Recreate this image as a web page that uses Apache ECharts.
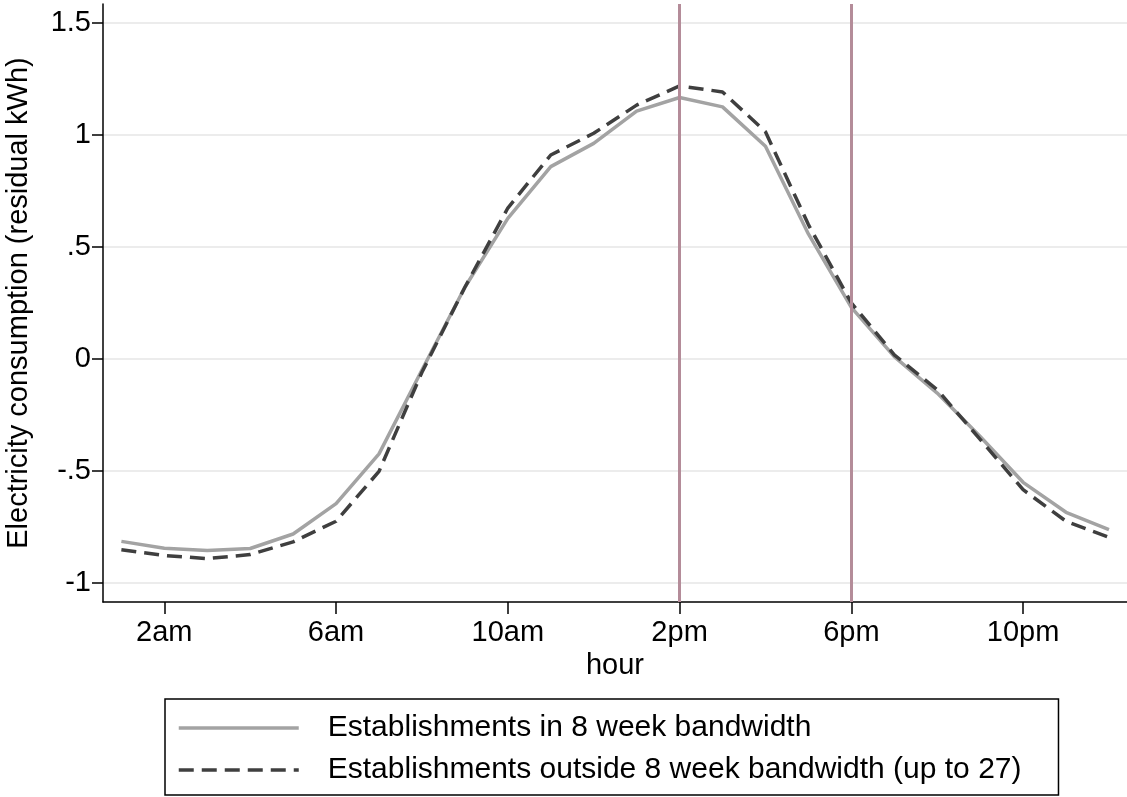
<!DOCTYPE html>
<html>
<head>
<meta charset="utf-8">
<script src="https://cdn.jsdelivr.net/npm/echarts@6/dist/echarts.min.js"></script>
<style>
  html, body { margin: 0; padding: 0; background: #fff; }
  #chart { width: 1127px; height: 797px; }
</style>
</head>
<body>
<div id="chart"></div>
<script>
// hour of day (1..24)
const hours = [1, 2, 3, 4, 5, 6, 7, 8, 9, 10, 11, 12, 13, 14, 15, 16, 17, 18, 19, 20, 21, 22, 23, 24];

// residual kWh, establishments in 8 week bandwidth
const inBandwidth = [-0.816, -0.847, -0.857, -0.848, -0.783, -0.647, -0.425, -0.05, 0.32, 0.628, 0.859, 0.963,
  1.107, 1.168, 1.126, 0.95, 0.558, 0.23, 0.01, -0.153, -0.347, -0.552, -0.686, -0.763];

// residual kWh, establishments outside 8 week bandwidth
const outsideBandwidth = [-0.853, -0.879, -0.893, -0.875, -0.818, -0.726, -0.503, -0.06, 0.32, 0.674, 0.911, 1.008,
  1.134, 1.22, 1.193, 1.015, 0.6, 0.25, 0.018, -0.138, -0.36, -0.585, -0.726, -0.798];

const xTickValues = [2, 6, 10, 14, 18, 22];
const xTickLabels = ["2am", "6am", "10am", "2pm", "6pm", "10pm"];
const yTickValues = [-1, -0.5, 0, 0.5, 1, 1.5];
const yTickLabels = ["-1", "-.5", "0", ".5", "1", "1.5"];
const ruleHours = [14, 18];

const seriesNames = [
  "Establishments in 8 week bandwidth",
  "Establishments outside 8 week bandwidth (up to 27)",
];

const font = "'Liberation Sans', Arial, Helvetica, sans-serif";
const grayColor = "#a3a3a3";
const darkColor = "#3f3f3f";
const dash = [15, 8];

function pairs(ys) {
  return hours.map((h, i) => [h, ys[i]]);
}

const chart = echarts.init(document.getElementById("chart"));

const option = {
  animation: false,
  backgroundColor: "#fff",
  grid: { left: 103, right: 0, top: 4, bottom: 195, containLabel: false, outerBoundsMode: "none" },
  xAxis: {
    type: "value",
    min: 0.572,
    max: 24.42,
    name: "hour",
    nameLocation: "middle",
    nameGap: 46,
    nameTextStyle: { fontSize: 29, color: "#000", fontFamily: font, verticalAlign: "top" },
    axisLine: { onZero: false, lineStyle: { color: "#000", width: 1.5 } },
    axisTick: { show: true, length: 12, lineStyle: { color: "#000", width: 1.5 }, customValues: xTickValues },
    axisLabel: {
      fontSize: 29, color: "#000", fontFamily: font, margin: 16,
      customValues: xTickValues,
      formatter: (v) => xTickLabels[xTickValues.indexOf(v)],
    },
    splitLine: { show: false },
  },
  yAxis: {
    type: "value",
    min: -1.087,
    max: 1.586,
    name: "Electricity consumption (residual kWh)",
    nameLocation: "middle",
    nameGap: 70,
    nameTextStyle: { fontSize: 29, color: "#000", fontFamily: font },
    axisLine: { show: true, onZero: false, lineStyle: { color: "#000", width: 1.5 } },
    axisTick: { show: true, length: 11, lineStyle: { color: "#000", width: 1.5 }, customValues: yTickValues },
    axisLabel: {
      fontSize: 29, color: "#000", fontFamily: font, margin: 12,
      customValues: yTickValues,
      formatter: (v) => yTickLabels[yTickValues.indexOf(v)],
    },
    splitLine: { show: true, lineStyle: { color: "#ececec", width: 2 } },
  },
  legend: {
    orient: "vertical",
    left: 165,
    top: 699,
    data: [
      { name: seriesNames[0], lineStyle: { color: grayColor, width: 3.5, type: "solid" } },
      { name: seriesNames[1], lineStyle: { color: darkColor, width: 3.5, type: dash } },
    ],
    borderColor: "#000",
    borderWidth: 1.5,
    padding: [14, 37, 10, 12],
    itemWidth: 120,
    itemHeight: 14,
    itemGap: 12,
    selectedMode: false,
    itemStyle: { opacity: 0, borderWidth: 0 },
    textStyle: { fontSize: 30, color: "#000", fontFamily: font, lineHeight: 30, padding: [0, 0, 0, 24] },
  },
  series: [
    {
      name: seriesNames[0],
      type: "line",
      data: pairs(inBandwidth),
      symbol: "none",
      lineStyle: { color: grayColor, width: 3.5 },
      itemStyle: { color: grayColor },
      z: 2,
    },
    {
      name: seriesNames[1],
      type: "line",
      data: pairs(outsideBandwidth),
      symbol: "none",
      lineStyle: { color: darkColor, width: 3.5, type: dash },
      itemStyle: { color: darkColor },
      z: 3,
      markLine: {
        silent: true,
        symbol: ["none", "none"],
        label: { show: false },
        lineStyle: { color: "#b48c99", width: 3, type: "solid" },
        data: ruleHours.map((h) => ({ xAxis: h })),
      },
    },
  ],
};

chart.setOption(option);
</script>
</body>
</html>
